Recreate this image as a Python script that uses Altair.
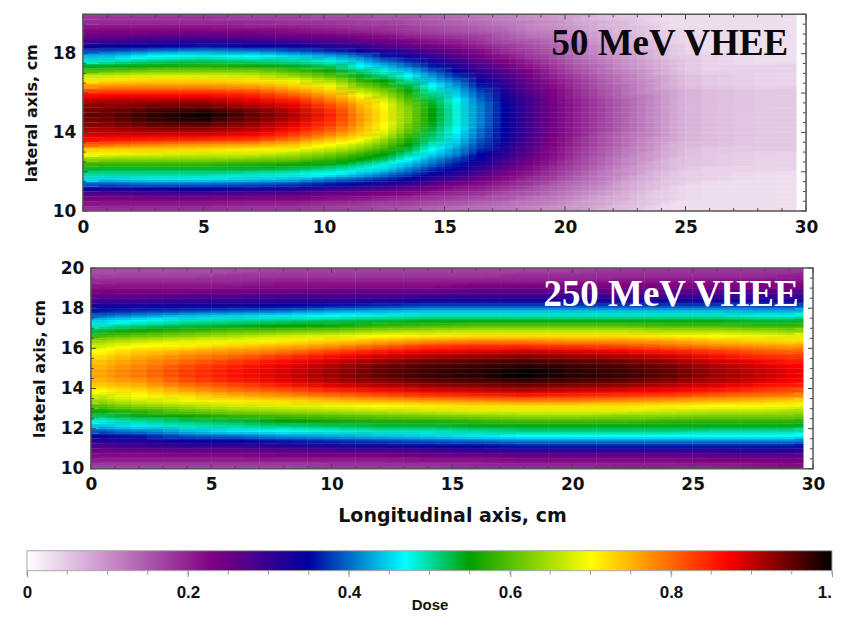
import altair as alt
import pandas as pd

STOPS = [0.0, 0.23, 0.35, 0.47, 0.55, 0.70, 0.87, 1.0]
COLORS = ["#ffffff", "#800080", "#0000a0", "#00ffff", "#00a000", "#ffff00", "#ff0000", "#000000"]

Y_EDGES = [10 + i * 0.25 for i in range(41)]

TOP_X_EDGES = [0, 2, 4, 6, 8, 9.5, 11, 12, 13, 14, 15, 16, 17, 18, 19, 20, 21, 22, 23, 24, 25, 27, 29.6]
# dose x100, one list per longitudinal station, from lateral 10 cm up to 20 cm
TOP_DOSE = [
 [19,21,23,27,33,39,45,50,53,58,63,69,73,80,86,89,91,93,94,95,94,93,91,87,82,77,72,67,60,54,49,44,39,34,29,26,23,21,19,18],
 [19,21,24,28,34,40,46,50,53,58,63,68,73,78,85,89,92,95,97,98,96,94,91,87,82,77,73,68,62,56,51,47,41,35,30,27,23,21,19,18],
 [19,21,24,28,35,40,46,50,53,58,63,67,72,77,84,89,92,95,98,100,97,94,91,87,82,77,73,68,62,57,52,48,42,36,31,27,23,21,19,18],
 [18,20,23,27,33,39,45,49,53,57,62,67,71,76,83,87,90,92,94,95,94,91,88,85,81,76,72,67,62,56,51,47,41,35,30,26,23,20,19,17],
 [18,20,23,27,32,38,44,48,52,56,61,65,69,74,79,83,86,88,90,91,90,88,85,81,77,73,69,64,59,54,50,45,39,34,29,25,22,20,18,17],
 [17,19,22,25,30,36,41,47,50,54,58,62,66,70,74,78,81,83,84,85,84,82,79,76,73,69,65,60,56,52,48,43,37,32,28,24,21,19,18,16],
 [17,18,21,24,28,34,39,44,48,51,55,58,62,66,70,73,75,76,77,77,76,75,73,70,66,62,58,54,51,47,44,40,34,30,26,23,20,18,17,16],
 [16,17,20,23,27,32,37,41,45,48,52,55,58,61,64,67,69,70,71,71,71,70,68,65,62,58,55,51,48,44,40,36,32,28,25,22,19,18,17,15],
 [15,17,19,22,25,30,34,38,41,44,47,50,53,55,57,59,61,62,63,63,63,62,60,58,56,53,50,47,44,40,37,33,30,26,23,20,18,17,16,15],
 [14,16,18,20,23,27,31,34,37,40,42,45,47,49,51,52,53,54,55,55,55,54,53,51,49,47,44,42,39,36,33,30,27,24,21,19,17,16,15,14],
 [13,15,17,19,21,24,28,31,34,36,38,41,42,44,45,46,47,48,48,48,48,48,47,45,44,42,40,37,35,32,30,27,25,22,20,18,16,15,14,13],
 [13,14,16,18,20,22,25,27,30,32,34,35,37,38,39,40,40,41,41,41,41,41,40,39,38,36,34,32,30,28,26,24,22,20,18,17,15,14,13,12],
 [12,13,15,16,18,20,22,24,26,28,29,31,32,33,34,34,35,35,35,35,35,35,34,33,32,31,30,28,27,25,23,21,19,18,16,15,14,13,12,11],
 [11,12,13,15,16,18,19,21,22,24,25,26,27,28,28,29,29,29,29,29,29,29,29,28,27,26,25,24,23,21,20,18,17,16,15,13,12,11,11,10],
 [10,11,12,13,14,15,17,18,19,20,21,22,22,23,23,24,24,24,24,24,24,24,24,23,23,22,21,20,19,18,17,16,15,14,13,12,11,10,10,9],
 [9,9,10,11,12,13,14,15,16,17,17,18,18,19,19,20,20,20,20,20,20,20,20,19,19,18,18,17,16,15,14,13,12,12,11,10,9,9,8,8],
 [7,8,8,9,10,11,12,12,13,14,14,15,15,16,16,16,17,17,17,17,17,17,17,16,16,15,15,14,13,13,12,11,10,10,9,8,8,7,7,6],
 [6,6,7,7,8,8,9,10,10,11,11,12,12,13,13,13,14,14,14,14,14,14,14,13,13,13,12,12,11,10,10,9,8,8,7,7,6,6,6,5],
 [4,5,5,5,6,6,7,7,8,8,9,9,10,10,10,11,11,11,11,11,11,11,11,11,10,10,10,9,9,8,8,7,7,6,6,5,5,5,4,4],
 [3,3,4,4,4,5,5,5,6,6,6,7,7,7,8,8,8,8,8,8,8,8,8,8,8,7,7,7,6,6,6,5,5,5,4,4,4,3,3,3],
 [3,3,3,3,3,3,4,4,4,5,5,5,5,6,6,6,6,6,6,6,6,6,6,6,6,5,5,5,4,4,4,4,3,3,3,3,3,3,3,3],
 [3,3,3,3,3,3,3,3,4,4,4,4,5,5,5,5,5,5,5,5,5,5,5,5,5,4,4,4,4,4,3,3,3,3,3,3,3,3,3,3],
]

BOTTOM_X_EDGES = [0, 1, 3, 5, 7, 9, 11, 13, 15, 17, 19, 21, 23, 25, 27, 28.5, 29.6]
BOTTOM_DOSE = [
 [17,20,22,24,28,31,34,39,44,48,52,56,60,64,67,70,73,75,76,76,75,74,72,70,67,64,59,53,49,45,40,36,33,29,26,23,21,19,17,16],
 [17,20,22,24,29,32,36,41,46,50,54,58,63,67,70,72,75,77,79,79,78,77,75,73,70,66,61,56,51,47,42,37,33,29,26,23,21,19,17,16],
 [17,20,22,25,30,34,39,44,49,52,56,61,65,69,72,76,79,82,83,83,82,80,78,75,71,68,63,58,53,49,44,38,34,30,27,23,21,19,17,16],
 [17,20,22,25,30,35,40,46,50,53,58,63,67,71,75,79,82,85,86,86,85,83,80,77,73,69,65,60,54,50,45,39,34,30,27,24,21,19,18,16],
 [17,20,23,26,31,36,42,47,51,55,59,64,68,72,77,81,85,88,89,89,88,86,83,79,75,71,67,61,55,51,46,40,35,31,28,24,22,20,18,17],
 [18,20,23,27,32,37,43,48,52,56,60,65,69,74,79,84,88,91,92,92,91,89,86,82,77,73,68,62,56,52,47,42,36,31,28,25,22,20,18,17],
 [18,20,23,27,33,38,44,49,53,57,61,66,70,75,81,86,90,93,95,95,94,92,89,85,80,75,70,64,58,53,48,43,37,32,28,25,22,20,18,17],
 [18,21,24,28,34,39,45,49,53,57,62,67,71,76,83,88,92,95,97,97,96,94,91,87,83,77,71,65,59,54,49,44,38,33,29,25,22,20,18,17],
 [19,21,24,29,35,40,46,50,54,58,63,68,72,77,84,89,93,96,98,98,97,95,92,88,84,78,72,66,60,54,49,44,38,33,29,26,23,20,18,17],
 [19,22,25,30,36,41,47,51,54,59,64,68,72,78,85,90,94,97,100,100,98,96,93,89,84,78,72,66,60,54,49,44,38,33,29,26,23,20,19,17],
 [19,22,25,30,36,41,47,51,54,59,64,68,72,78,84,89,93,96,98,98,97,95,92,88,83,77,72,66,60,54,49,44,38,33,29,26,23,20,19,17],
 [20,22,25,30,36,41,47,51,54,59,63,68,72,77,83,88,92,95,97,97,96,94,91,87,82,77,72,66,60,54,49,44,38,33,29,26,23,21,19,18],
 [20,22,25,30,36,41,47,51,54,58,63,67,71,76,82,87,90,93,95,95,94,92,89,85,80,76,71,65,59,54,49,44,38,33,29,26,23,21,19,18],
 [20,23,26,30,36,41,47,50,54,58,62,66,70,75,80,85,88,91,92,92,91,89,86,83,78,74,70,65,59,54,49,44,38,33,29,26,23,21,19,18],
 [21,23,26,31,36,41,47,50,54,58,62,66,70,74,79,83,86,89,90,90,89,87,84,81,77,73,69,64,58,53,48,43,38,33,29,26,23,21,19,18],
 [22,24,26,31,36,41,47,50,54,58,62,65,69,73,78,82,85,87,88,88,87,85,83,80,76,72,68,63,58,53,48,43,38,33,29,26,23,21,20,18],
]

X_LABEL_TICKS = [0, 5, 10, 15, 20, 25, 30]
Y_LABEL_TICKS = [10, 12, 14, 16, 18, 20]
X_TICKS = list(range(0, 31))
Y_TICKS = [10 + i * 0.5 for i in range(21)]
BAR_TICKS = [0, 0.2, 0.4, 0.6, 0.8, 1.0]
BAR_MINOR = [i * 0.05 for i in range(21)]
BAR_END_LABEL = "1."

TOP_LABEL = "50 MeV VHEE"
BOTTOM_LABEL = "250 MeV VHEE"
Y_TITLE = "lateral axis, cm"
X_TITLE = "Longitudinal axis, cm"
BAR_TITLE = "Dose"

AXIS_FONT = "DejaVu Sans"
BAR_FONT = "Liberation Sans"
INK = "#111111"
TICK = "#444444"
VIEW_W = 825
# Each cell is drawn three times, a third of a cell apart, so that the steps blend
BLEND = [(0, 1.0), (1 / 3, 0.5), (-1 / 3, 1 / 3)]


def grid(x_edges, dose, shift):
    n_x = len(dose)
    x_w = [x_edges[i + 1] - x_edges[i] for i in range(n_x)]
    y_w = 0.25
    x_lo, x_hi = x_edges[0], x_edges[-1]
    rows = []
    for i, col in enumerate(dose):
        for j, v in enumerate(col):
            if shift >= 0:
                a = x_edges[i] + shift * x_w[i]
                b = x_edges[i + 1] + shift * x_w[i + 1] if i + 1 < n_x else x_hi
            else:
                a = x_edges[i] + shift * x_w[i - 1] if i > 0 else x_lo
                b = x_edges[i + 1] + shift * x_w[i]
            c = max(10, Y_EDGES[j] + shift * y_w)
            d = min(20, Y_EDGES[j + 1] + shift * y_w)
            rows.append(dict(x0=a, x1=b, y0=c, y1=d, dose=v / 100))
    return pd.DataFrame(rows)


def panel(x_edges, dose, label, label_x, label_y, label_color, left, w, h, x_title):
    x_scale = alt.Scale(domain=[0, 30], nice=False, range=[left, left + w])
    y_scale = alt.Scale(domain=[10, 20], nice=False)
    cscale = alt.Scale(domain=STOPS, range=COLORS, clamp=True, interpolate="rgb")
    layers = []
    for shift, alpha in BLEND:
        layers.append(alt.Chart(grid(x_edges, dose, shift)).mark_rect(opacity=alpha).encode(
            x=alt.X("x0:Q", scale=x_scale, title=x_title if x_title else None, axis=alt.Axis(
                values=X_LABEL_TICKS, tickSize=0, domain=False, grid=False, labelFont=AXIS_FONT,
                labelFontSize=17, labelFontWeight="bold", labelColor=INK, labelPadding=8,
                labelFlush=False, labelOverlap=False, titleFont=AXIS_FONT, titleFontSize=19,
                titleFontWeight="bold", titleColor=INK, titlePadding=14, format="d")),
            x2="x1:Q",
            y=alt.Y("y0:Q", scale=y_scale, title=Y_TITLE, axis=alt.Axis(
                values=Y_LABEL_TICKS, tickSize=0, domain=False, grid=False, offset=-left, labelFont=AXIS_FONT,
                labelFontSize=17, labelFontWeight="bold", labelColor=INK, labelPadding=7,
                labelFlush=False, labelOverlap=False,
                titleFont=AXIS_FONT, titleFontSize=16, titleFontWeight="bold", titleColor=INK,
                titlePadding=13, format="d")),
            y2="y1:Q",
            color=alt.Color("dose:Q", scale=cscale, legend=None),
        ))
    xdf = pd.DataFrame({"x": X_TICKS, "major": [t % 5 == 0 for t in X_TICKS]})
    ydf = pd.DataFrame({"y": Y_TICKS, "major": [t % 2 == 0 for t in Y_TICKS]})
    for first in (True, False):
        for major, size in ((True, 5), (False, 3)):
            y0 = 0 if first else h
            y1 = size if first else h - size
            layers.append(alt.Chart(xdf[xdf.major == major]).mark_rule(color=TICK, strokeWidth=1).encode(
                x=alt.X("x:Q", scale=x_scale), y=alt.value(y0), y2=alt.value(y1)))
            x0 = left if first else left + w
            x1 = left + size if first else left + w - size
            layers.append(alt.Chart(ydf[ydf.major == major]).mark_rule(color=TICK, strokeWidth=1).encode(
                y=alt.Y("y:Q", scale=y_scale), x=alt.value(x0), x2=alt.value(x1)))
    frame = alt.Chart(pd.DataFrame({"a": [0], "b": [30], "c": [10], "d": [20]})).mark_rect(
        fillOpacity=0, stroke="#555555", strokeWidth=1.5).encode(
        x=alt.X("a:Q", scale=x_scale), x2="b:Q", y=alt.Y("c:Q", scale=y_scale), y2="d:Q")
    text = alt.Chart(pd.DataFrame({"x": [label_x], "y": [label_y], "t": [label]})).mark_text(
        font="Liberation Serif", fontSize=37, fontWeight="bold", align="right", baseline="middle",
        color=label_color).encode(x=alt.X("x:Q", scale=x_scale), y=alt.Y("y:Q", scale=y_scale), text="t:N")
    return alt.layer(*layers, frame, text).properties(width=VIEW_W, height=h)


top = panel(TOP_X_EDGES, TOP_DOSE, TOP_LABEL, 29.26, 18.48, "#0a0a0a", 75, 724, 197, None)
bottom = panel(BOTTOM_X_EDGES, BOTTOM_DOSE, BOTTOM_LABEL, 29.4, 18.66, "#ffffff", 83, 723, 201, X_TITLE)

bar_scale = alt.Scale(domain=[0, 1], nice=False, range=[19, 825])
gradient = alt.Gradient(gradient="linear", x1=0, x2=1, y1=0, y2=0,
                        stops=[alt.GradientStop(offset=s, color=c) for s, c in zip(STOPS, COLORS)])
bar_rect = alt.Chart(pd.DataFrame({"a": [0], "b": [1]})).mark_rect(
    fill=gradient, stroke="#aaaaaa", strokeWidth=1).encode(
    x=alt.X("a:Q", scale=bar_scale, title=BAR_TITLE, axis=alt.Axis(
        values=BAR_TICKS, tickSize=6, tickColor="#999999", domain=False, grid=False,
        labelFont=BAR_FONT, labelFontSize=17, labelFontWeight="bold", labelColor=INK, labelPadding=8,
        labelExpr="datum.value == 0 ? '0' : (datum.value == 1 ? '' : format(datum.value, '.1f'))",
        labelFlush=False, labelOverlap=False,
        titleFont=BAR_FONT, titleFontSize=15, titleFontWeight="bold", titleColor=INK, titlePadding=-3)),
    x2="b:Q", y=alt.value(25), y2=alt.value(45))
bar_minor = alt.Chart(pd.DataFrame({"x": BAR_MINOR})).mark_rule(color="#999999").encode(
    x=alt.X("x:Q", scale=bar_scale), y=alt.value(45), y2=alt.value(49))
bar_end = alt.Chart(pd.DataFrame({"x": [1], "t": [BAR_END_LABEL]})).mark_text(
    font=BAR_FONT, fontSize=17, fontWeight="bold", color=INK, align="right", baseline="top").encode(
    x=alt.X("x:Q", scale=bar_scale), y=alt.value(59), text="t:N")
bar = alt.layer(bar_rect, bar_minor, bar_end).properties(width=VIEW_W, height=45)

chart = alt.vconcat(top, bottom, bar, spacing=57, bounds="flush").properties(
    padding={"left": 0, "top": 5, "right": 0, "bottom": 0},
    background="white",
).configure_view(strokeWidth=0)

chart.save("out.html", embed_options={"renderer": "svg", "actions": False})
